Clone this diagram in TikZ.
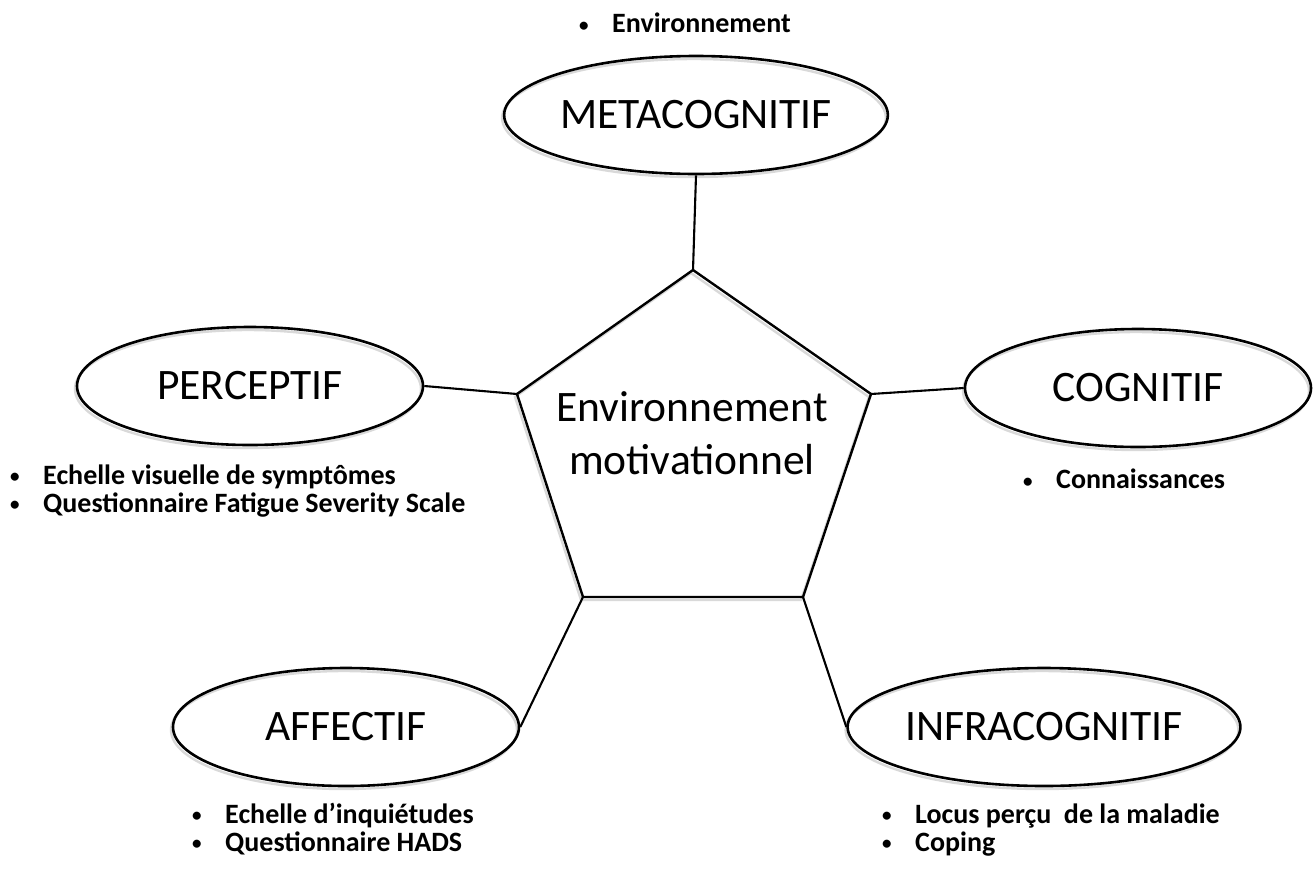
\documentclass[tikz,border=0pt]{standalone}
\usepackage{fontspec}
\setmainfont{Carlito}
\usepackage{tikz}
\usetikzlibrary{shapes.geometric}
\tikzset{
  halo/.style={preaction={draw=black!15, line width=2.4pt, transform canvas={shift={(-2pt,-3pt)}}}},
  level/.style={ellipse, draw, line width=2.6pt, inner sep=0pt, minimum width=346pt, minimum height=118pt, halo, font=\fontsize{43.5}{50}\selectfont},
  items/.style={anchor=west, align=left, inner sep=0pt, font=\bfseries\fontsize{28}{28}\selectfont},
  link/.style={line width=2.1pt}
}
\newcommand{\itm}[1]{\makebox[33pt][l]{\raisebox{1.5pt}{\fontsize{19}{19}\selectfont\textbullet}}#1}

\begin{document}
\begin{tikzpicture}[x=1pt, y=-1pt]
        \useasboundingbox (0,0) rectangle (1316,868);
        % pentagon
        \coordinate (pT) at (693,270);
        \coordinate (pL) at (517,394);
        \coordinate (pR) at (871,394);
        \coordinate (pBL) at (583,597);
        \coordinate (pBR) at (803,597);
        \draw[link, line width=2.4pt, halo, line join=miter] (pT) -- (pR) -- (pBR) -- (pBL) -- (pL) -- cycle;
        \node[align=center, font=\fontsize{43.5}{53}\selectfont] (env) at (692,433) {Environnement\\motivationnel};
        % levels
        \node[level] (meta) at (696,115) {METACOGNITIF};
        \node[level] (perc) at (250,386) {PERCEPTIF};
        \node[level] (cogn) at (1138,388) {COGNITIF};
        \node[level] (aff) at (346,727) {AFFECTIF};
        \node[level] (infra) at (1044,727) {INFRACOGNITIF};
        % links
        \draw[link] (meta.south) -- (pT);
        \draw[link] (perc.east) -- (pL);
        \draw[link] (cogn.west) -- (pR);
        \draw[link] (aff.east) -- (pBL);
        \draw[link] (infra.west) -- (pBR);
        % items
        \node[items] (metaI) at (579,23) {\itm{Environnement}};
        \node[items] (percI) at (10,491) {\itm{Echelle visuelle de symptômes}\\\itm{Questionnaire Fatigue Severity Scale}};
        \node[items] (cognI) at (1023,479) {\itm{Connaissances}};
        \node[items] (affI) at (192,829) {\itm{Echelle d’inquiétudes}\\\itm{Questionnaire HADS}};
        \node[items] (infraI) at (882,830) {\itm{Locus perçu\ \ de la maladie}\\\itm{Coping}};
\end{tikzpicture}
\end{document}
